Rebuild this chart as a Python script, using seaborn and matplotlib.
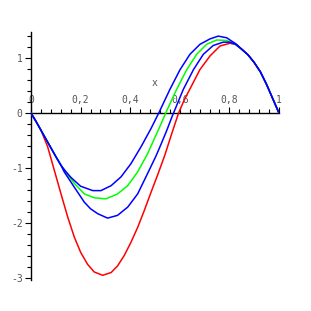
import numpy as np
import pandas as pd
import seaborn as sns
import matplotlib.pyplot as plt
from matplotlib.ticker import MultipleLocator, FuncFormatter

# values (x, y per curve)
start_x = [0, 0.02, 0.04, 0.06, 0.08, 0.1, 0.121]
start_y = [0, -0.15, -0.31, -0.47, -0.63, -0.79, -0.95]
tail_x = [0.85, 0.875, 0.9, 0.925, 0.95, 0.975, 1.0]
tail_y = [1.16, 1.06, 0.92, 0.75, 0.52, 0.26, 0]

red_x = [0, 0.02, 0.04, 0.067, 0.094, 0.121, 0.148, 0.175, 0.2, 0.228, 0.255,
         0.289, 0.323, 0.349, 0.376, 0.403, 0.43, 0.457, 0.484, 0.511, 0.54,
         0.567, 0.595, 0.618, 0.641, 0.681, 0.722, 0.762, 0.802, 0.825] + tail_x
red_y = [0, -0.15, -0.31, -0.61, -1.04, -1.47, -1.89, -2.26, -2.53, -2.75, -2.89,
         -2.95, -2.9, -2.78, -2.59, -2.35, -2.08, -1.77, -1.44, -1.12, -0.76,
         -0.38, 0.0, 0.24, 0.44, 0.79, 1.04, 1.22, 1.27, 1.25] + tail_y

blue1_x = start_x + [0.14, 0.161, 0.2, 0.249, 0.282, 0.323, 0.363, 0.403, 0.444,
                     0.484, 0.515, 0.56, 0.601, 0.641, 0.681, 0.722, 0.755, 0.789,
                     0.829] + tail_x
blue1_y = start_y + [-1.06, -1.17, -1.33, -1.41, -1.41, -1.32, -1.16, -0.92, -0.61,
                     -0.28, 0.0, 0.43, 0.79, 1.07, 1.25, 1.35, 1.4, 1.37,
                     1.25] + tail_y

green_x = start_x + [0.134, 0.175, 0.215, 0.255, 0.302, 0.349, 0.39, 0.43, 0.47,
                     0.504, 0.524, 0.545, 0.587, 0.628, 0.668, 0.708, 0.749, 0.789,
                     0.82] + tail_x
green_y = start_y + [-1.04, -1.28, -1.47, -1.54, -1.56, -1.47, -1.32, -1.07, -0.74,
                     -0.4, -0.2, 0.02, 0.43, 0.79, 1.07, 1.25, 1.33, 1.32,
                     1.26] + tail_y

blue2_x = start_x + [0.134, 0.175, 0.215, 0.24, 0.269, 0.309, 0.349, 0.39, 0.43,
                     0.47, 0.504, 0.524, 0.547, 0.57, 0.614, 0.655, 0.695, 0.735,
                     0.775, 0.8, 0.825] + tail_x
blue2_y = start_y + [-1.07, -1.35, -1.62, -1.74, -1.83, -1.91, -1.86, -1.71, -1.47,
                     -1.1, -0.78, -0.57, -0.32, -0.05, 0.43, 0.79, 1.07, 1.23,
                     1.29, 1.29, 1.25] + tail_y

curves = [("red", red_x, red_y), ("green", green_x, green_y),
          ("blue1", blue1_x, blue1_y), ("blue2", blue2_x, blue2_y)]
colors = {"red": "#ff0000", "green": "#00ff00", "blue1": "#0000ff", "blue2": "#0000ff"}

rows = []
for name, xs, ys in curves:
    for xv, yv in zip(xs, ys):
        rows.append((name, xv, yv))
df = pd.DataFrame(rows, columns=["curve", "x", "y"])

fig = plt.figure(figsize=(3.11, 3.11), dpi=100)
ax = fig.add_axes([31 / 311, 0.1007, 248 / 311, 0.7973])

sns.lineplot(data=df, x="x", y="y", hue="curve", palette=colors, sort=False,
             estimator=None, linewidth=1.1, legend=False, ax=ax, zorder=3)

ax.set_xlim(0, 1)
ax.set_ylim(-3.03, 1.48)

# maple-like axes crossing at the origin
ax.spines["right"].set_visible(False)
ax.spines["bottom"].set_visible(False)
ax.spines["top"].set_position(("data", 0))
ax.spines["left"].set_position(("data", 0))
for s in ["top", "left"]:
    ax.spines[s].set_linewidth(1.0)
    ax.spines[s].set_color("black")
ax.xaxis.set_ticks_position("top")
ax.xaxis.set_label_position("top")

ax.xaxis.set_major_locator(MultipleLocator(0.2))
ax.xaxis.set_minor_locator(MultipleLocator(0.04))
ax.yaxis.set_major_locator(MultipleLocator(1))
ax.yaxis.set_minor_locator(MultipleLocator(0.2))

def fmt_x(v, pos):
    if abs(v - round(v)) < 1e-9:
        return "%d" % round(v)
    return ("%.1f" % v).replace(".", ",")

ax.xaxis.set_major_formatter(FuncFormatter(fmt_x))
ax.yaxis.set_major_formatter(FuncFormatter(lambda v, p: "%d" % round(v)))

mono = "DejaVu Sans Mono"
ax.tick_params(axis="both", which="major", length=4, width=0.8, labelsize=7,
               labelcolor="#555555", pad=2)
ax.tick_params(axis="both", which="minor", length=3, width=0.8)
for lab in ax.get_xticklabels() + ax.get_yticklabels():
    lab.set_family(mono)

ax.set_xlabel("x", family=mono, fontsize=7, color="#555555", labelpad=6)
ax.set_ylabel("")
ax.patch.set_alpha(0)

fig.savefig("out.png", dpi=100)
